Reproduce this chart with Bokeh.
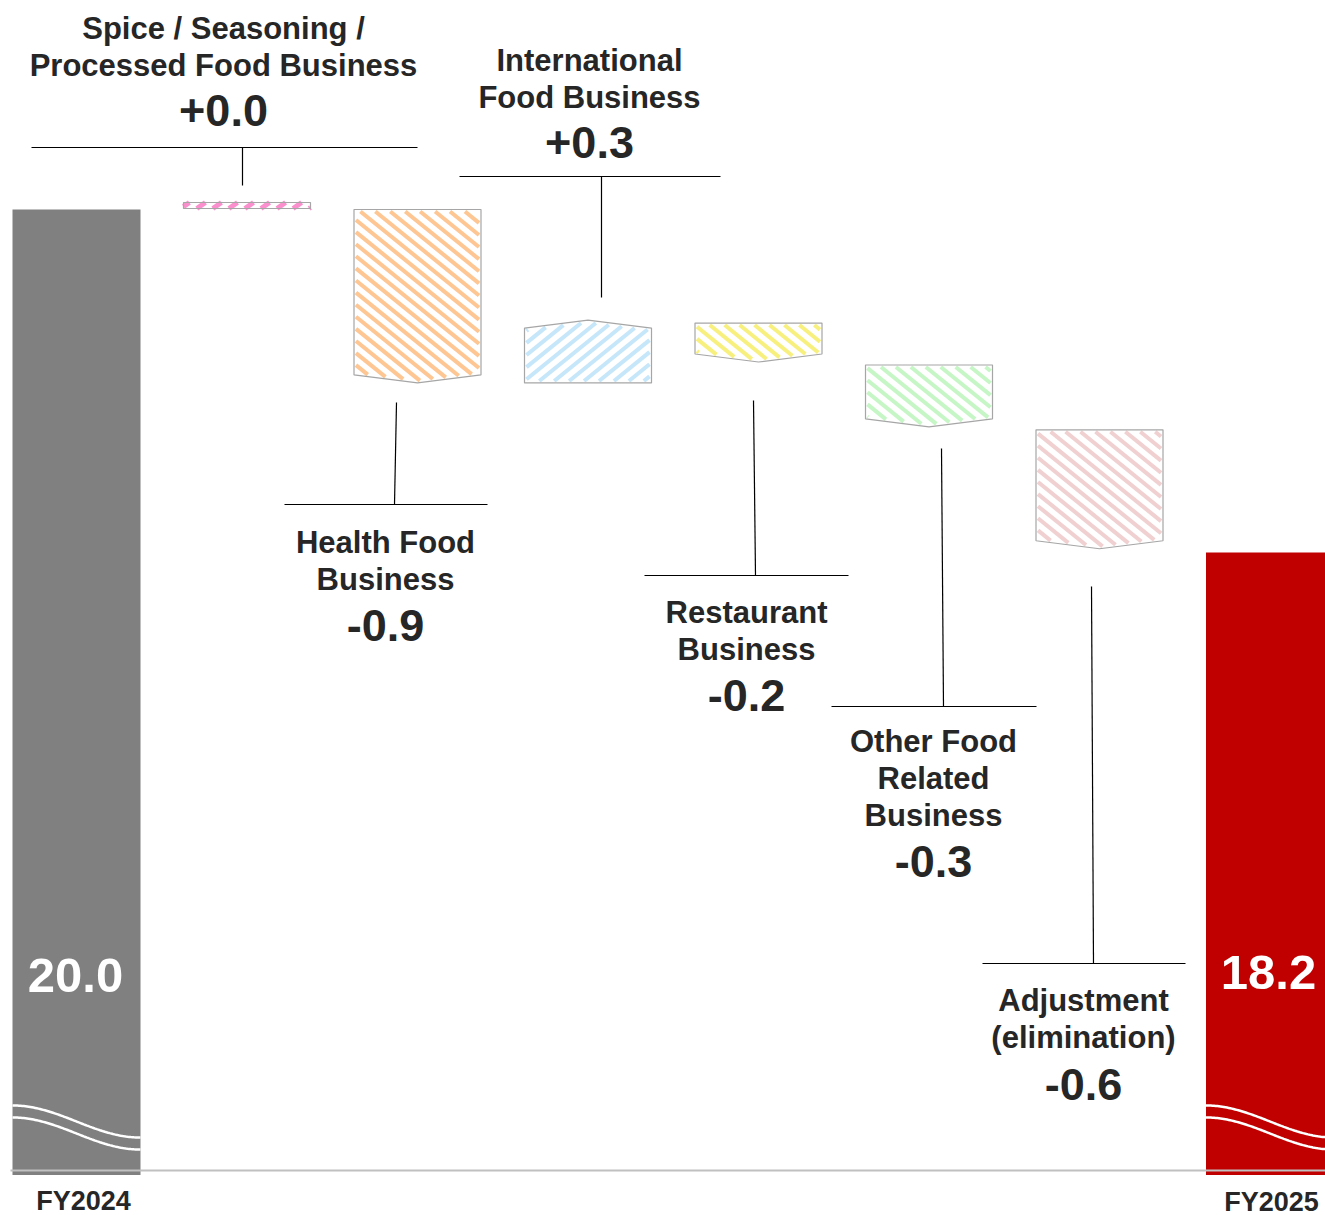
import numpy as np
from bokeh.plotting import figure
from bokeh.models import Range1d
from bokeh.core.properties import value
from bokeh.embed import file_html
from bokeh.resources import INLINE

# ---------------- data ----------------
end_labels = ["FY2024", "FY2025"]
end_values = [20.0, 18.2]
end_value_text = ["20.0", "18.2"]
end_colors = ["#808080", "#c00000"]

segment_names = [
    ["Spice / Seasoning /", "Processed Food Business"],
    ["Health Food", "Business"],
    ["International", "Food Business"],
    ["Restaurant", "Business"],
    ["Other Food", "Related", "Business"],
    ["Adjustment", "(elimination)"],
]
segment_deltas = [0.0, -0.91, 0.33, -0.22, -0.34, -0.64]
segment_delta_text = ["+0.0", "-0.9", "+0.3", "-0.2", "-0.3", "-0.6"]
segment_colors = ["#fb8fcd", "#fdc692", "#c6e6fa", "#f8f07e", "#c6f6c6", "#f0d0d0"]
segment_hatch_dir = ["/", "\\", "/", "\\", "\\", "\\"]

# ---------------- layout ----------------
W, H = 1325, 1215
PX_PER_X = 170.5      # pixels per category step
X0_PX = 76            # pixel x of first category
PX_PER_Y = 190.6      # pixels per data unit
REF_PX = 209          # pixel y of the start value
FLOOR = 14.94         # broken-axis floor (data)

def dx(px):
    return (px - X0_PX) / PX_PER_X

def dy(py):
    return end_values[0] + (REF_PX - py) / PX_PER_Y

p = figure(width=W, height=H, output_backend="svg", toolbar_location=None,
           x_range=Range1d(dx(0), dx(W)), y_range=Range1d(dy(H), dy(0)),
           x_axis_type=None, y_axis_type=None, min_border=0)
p.outline_line_color = None
p.grid.visible = False
p.background_fill_color = "white"
p.border_fill_color = "white"

FONT = value("Liberation Sans")
TXT = "#262626"

# end bars
bar_w = 128 / PX_PER_X
end_x = [0, len(segment_deltas) + 1]
p.vbar(x=end_x, top=end_values, bottom=FLOOR - 1 / PX_PER_Y, width=bar_w,
       fill_color=end_colors, line_color=None)

# break marks (white waves)
amp = 32 / PX_PER_Y
for cx in end_x:
    xs = np.linspace(cx - bar_w / 2, cx + bar_w / 2, 80)
    t = (xs - xs[0]) / (xs[-1] - xs[0])
    for ytop_px in (1105, 1117):
        ys = dy(ytop_px) - amp * (1 - np.cos(np.pi * t)) / 2
        p.line(xs, ys, line_color="white", line_width=2.5)

# baseline
p.segment(x0=[dx(10)], y0=[dy(1170)], x1=[dx(W)], y1=[dy(1170)],
          line_color="#c0c0c0", line_width=2)

# waterfall segments (small visual gap between consecutive blocks)
hw = 127 / PX_PER_X / 2
tip = 8 / PX_PER_Y
min_h = 7 / PX_PER_Y
gap = 3 / PX_PER_Y
level = end_values[0]
xs_list, ys_list = [], []
for i, d in enumerate(segment_deltas):
    cx = i + 1
    L, R = cx - hw, cx + hw
    a, b = level, level + d
    if abs(d) < min_h:
        xs_list.append([L, R, R, L])
        ys_list.append([a + gap / 3, a + gap / 3, a + min_h, a + min_h])
    else:
        s = np.sign(d)
        a2 = a if i <= 2 else a + s * gap
        xs_list.append([L, R, R, cx, L])
        ys_list.append([a2, a2, b - s * tip, b, b - s * tip])
    level = b


def hatch_segments(xs, ys, direction, period=9.4, angle_deg=39.0, inset=2.0):
    """Clip a family of parallel stripes (computed in pixel space) to a convex polygon."""
    P = np.column_stack([np.asarray(xs) * PX_PER_X, np.asarray(ys) * PX_PER_Y])
    cen = P.mean(axis=0)
    th = np.radians(angle_deg)
    u = np.array([np.cos(th), -np.sin(th)]) if direction == "\\" else np.array([np.cos(th), np.sin(th)])
    nrm = np.array([-u[1], u[0]])
    normals, pts = [], []
    n = len(P)
    for k in range(n):
        A, B = P[k], P[(k + 1) % n]
        e = B - A
        nn = np.array([-e[1], e[0]])
        nn = nn / np.linalg.norm(nn)
        if np.dot(cen - A, nn) < 0:
            nn = -nn
        normals.append(nn)
        pts.append(A)
    proj = P @ nrm
    c = np.floor(proj.min() / period) * period
    sx, sy = [], []
    while c <= proj.max():
        base = c * nrm
        tlo, thi = -1e9, 1e9
        ok = True
        for nn, A in zip(normals, pts):
            den = np.dot(nn, u)
            num = inset - np.dot(nn, base - A)
            if abs(den) < 1e-12:
                if num > 0:
                    ok = False
                    break
                continue
            tt = num / den
            if den > 0:
                tlo = max(tlo, tt)
            else:
                thi = min(thi, tt)
        if ok and thi > tlo:
            p0 = base + tlo * u
            p1 = base + thi * u
            sx.append([p0[0] / PX_PER_X, p1[0] / PX_PER_X])
            sy.append([p0[1] / PX_PER_Y, p1[1] / PX_PER_Y])
        c += period
    return sx, sy


for xs, ys, col, dirn, d in zip(xs_list, ys_list, segment_colors, segment_hatch_dir, segment_deltas):
    if abs(d) < min_h:
        sx, sy = hatch_segments(xs, ys, dirn, period=9.2, angle_deg=35.0, inset=0.0)
        p.multi_line(sx, sy, line_color=col, line_width=5, line_cap="butt")
    else:
        sx, sy = hatch_segments(xs, ys, dirn)
        p.multi_line(sx, sy, line_color=col, line_width=4, line_cap="butt")

p.patches(xs_list, ys_list, fill_color=None, line_color="#a6a6a6", line_width=1.2)

# leader lines (pixel layout)
leaders = [
    # vertical (x_top, y_top, x_bot, y_bot), horizontal (x0, x1, y)
    ((242, 185, 242, 147), (31, 417, 147)),
    ((396, 402, 394, 504), (284, 487, 504)),
    ((601, 297, 601, 176), (459, 720, 176)),
    ((753, 400, 755, 575), (644, 848, 575)),
    ((941, 448, 943, 706), (831, 1036, 706)),
    ((1091, 586, 1093, 963), (982, 1185, 963)),
]
for (vx0, vy0, vx1, vy1), (hx0, hx1, hy) in leaders:
    p.segment(x0=[dx(vx0), dx(hx0)], y0=[dy(vy0), dy(hy)],
              x1=[dx(vx1), dx(hx1)], y1=[dy(vy1), dy(hy)],
              line_color="#000000", line_width=1.2)

# segment labels
label_pos = [  # center x, first line y, value y
    (223, 28, 110),
    (385, 542, 625),
    (589, 60, 142),
    (746, 612, 695),
    (933, 741, 861),
    (1083, 1000, 1084),
]
LINE_H = 36.8
lx, ly, lt = [], [], []
vx, vy, vt = [], [], []
for names, dtext, (cxp, y1p, vyp) in zip(segment_names, segment_delta_text, label_pos):
    for k, n in enumerate(names):
        lx.append(dx(cxp)); ly.append(dy(y1p + k * LINE_H)); lt.append(n)
    vx.append(dx(cxp)); vy.append(dy(vyp)); vt.append(dtext)

p.text(x=lx, y=ly, text=lt, text_font=FONT, text_font_style="bold",
       text_font_size="31px", text_align="center", text_baseline="middle", text_color=TXT)
p.text(x=vx, y=vy, text=vt, text_font=FONT, text_font_style="bold",
       text_font_size="45px", text_align="center", text_baseline="middle", text_color=TXT)

# end bar values and category labels
p.text(x=[dx(75), dx(1268)], y=[dy(975), dy(972)], text=end_value_text, text_font=FONT,
       text_font_style="bold", text_font_size="49px", text_align="center",
       text_baseline="middle", text_color="white")
p.text(x=[dx(83), dx(1271)], y=[dy(1200), dy(1201)], text=end_labels, text_font=FONT,
       text_font_style="bold", text_font_size="27px", text_align="center",
       text_baseline="middle", text_color=TXT)

open("out.html", "w").write(file_html(p, INLINE))
